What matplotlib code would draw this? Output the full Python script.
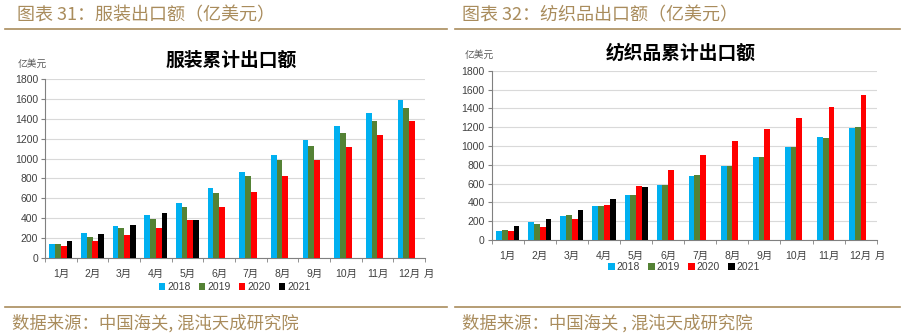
import matplotlib
matplotlib.use("Agg")
import matplotlib.pyplot as plt
import numpy as np

plt.rcParams['font.family'] = ['Liberation Sans', 'Noto Sans CJK SC', 'DejaVu Sans']

months = ['1月', '2月', '3月', '4月', '5月', '6月', '7月', '8月', '9月', '10月', '11月', '12月']
years = ['2018', '2019', '2020', '2021']
colors = ['#00B0F0', '#548235', '#FF0000', '#000000']

# 服装累计出口额 (亿美元)
apparel_2018 = [134, 249, 320, 430, 548, 700, 865, 1036, 1191, 1329, 1457, 1588]
apparel_2019 = [141, 205, 296, 390, 511, 656, 824, 982, 1130, 1255, 1379, 1514]
apparel_2020 = [118, 165, 229, 296, 380, 511, 663, 824, 982, 1113, 1235, 1379]
apparel_2021 = [171, 242, 333, 447, 380]

# 纺织品累计出口额 (亿美元)
textile_2018 = [96, 188, 255, 365, 478, 581, 680, 783, 886, 988, 1091, 1187]
textile_2019 = [106, 170, 266, 365, 482, 585, 691, 787, 886, 988, 1084, 1198]
textile_2020 = [96, 135, 223, 376, 577, 740, 903, 1049, 1180, 1297, 1414, 1541]
textile_2021 = [152, 220, 315, 439, 563]

header_color = '#A98C5C'

fig = plt.figure(figsize=(9.02, 3.36), dpi=100)


def draw_panel(rect, series, title, title_xy, unit_xy, legend_y):
    ax = fig.add_axes(rect)
    x = np.arange(len(months))
    w = 0.18
    for i, (vals, c, lab) in enumerate(zip(series, colors, years)):
        xi = x[:len(vals)] + (i - 1.5) * w
        ax.bar(xi, vals, width=w, color=c, label=lab, zorder=3)
    ax.set_xlim(-0.5, len(months) - 0.5)
    ax.set_ylim(0, 1800)
    ax.set_yticks(np.arange(0, 1801, 200))
    ax.yaxis.grid(True, color='#D9D9D9', linewidth=0.8, zorder=0)
    ax.set_axisbelow(True)
    ax.set_xticks(x)
    ax.set_xticklabels(months)
    ax.set_xticks(np.arange(-0.5, len(months), 1), minor=True)
    ax.tick_params(axis='x', which='major', length=0, pad=8, labelsize=7.5, labelcolor='#404040')
    ax.tick_params(axis='x', which='minor', length=3, color='#808080', direction='out')
    ax.tick_params(axis='y', length=3, color='#808080', labelsize=7.5, labelcolor='#404040', pad=2)
    for s in ['top', 'right']:
        ax.spines[s].set_visible(False)
    ax.spines['left'].set_color('#808080')
    ax.spines['bottom'].set_color('#808080')
    ax.annotate('月', xy=(len(months) - 0.5, 0), xycoords=('data', 'axes fraction'),
                xytext=(2.5, -8), textcoords='offset points',
                fontsize=7.5, color='#404040', va='top', ha='center')
    fig.text(title_xy[0], title_xy[1], title, fontsize=13.5, fontweight='bold',
             family=['Noto Sans CJK SC'], ha='center', va='center', color='black')
    fig.text(unit_xy[0], unit_xy[1], '亿美元', fontsize=7, family=['Noto Sans CJK SC'],
             ha='left', va='center', color='#595959')
    ax.legend(loc='center', bbox_to_anchor=(0.5, legend_y), ncol=4, frameon=False,
              fontsize=7.5, handlelength=0.6, handleheight=0.6, handletextpad=0.2,
              columnspacing=0.8, labelcolor='#404040')
    return ax


draw_panel([45 / 902, 1 - 257.7 / 336, 380 / 902, 178.4 / 336],
           [apparel_2018, apparel_2019, apparel_2020, apparel_2021],
           '服装累计出口额', (231 / 902, 1 - 60 / 336), (18 / 902, 1 - 64 / 336), -0.165)

draw_panel([491.7 / 902, 1 - 240 / 336, 385 / 902, 169.3 / 336],
           [textile_2018, textile_2019, textile_2020, textile_2021],
           '纺织品累计出口额', (681 / 902, 1 - 53 / 336), (465 / 902, 1 - 55 / 336), -0.16)

# headers
fig.text(17 / 902, 1 - 15 / 336, '图表 31：服装出口额（亿美元）', fontsize=13,
         family=['Noto Sans CJK SC'], color=header_color, ha='left', va='center')
fig.text(462 / 902, 1 - 15 / 336, '图表 32：纺织品出口额（亿美元）', fontsize=13,
         family=['Noto Sans CJK SC'], color=header_color, ha='left', va='center')

# horizontal rules
for x0, x1 in [(5, 447), (455, 900)]:
    fig.add_artist(plt.Line2D([x0 / 902, x1 / 902], [1 - 29 / 336] * 2, color=header_color, linewidth=1.2))
    fig.add_artist(plt.Line2D([x0 / 902, x1 / 902], [1 - 307 / 336] * 2, color=header_color, linewidth=1.2))

fig.text(12 / 902, 1 - 323 / 336, '数据来源：中国海关, 混沌天成研究院', fontsize=12.5,
         family=['Noto Sans CJK SC'], color=header_color, ha='left', va='center')
fig.text(462 / 902, 1 - 323 / 336, '数据来源：中国海关 , 混沌天成研究院', fontsize=12.5,
         family=['Noto Sans CJK SC'], color=header_color, ha='left', va='center')

fig.savefig('out.png', dpi=100)
